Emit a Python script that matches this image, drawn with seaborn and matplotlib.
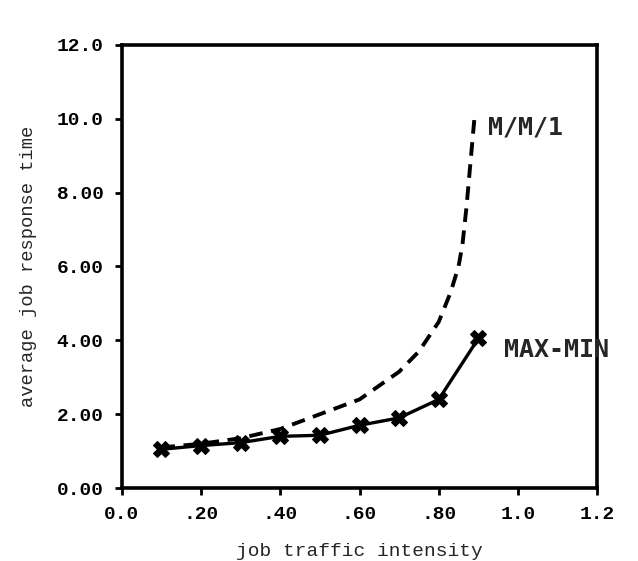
import matplotlib
matplotlib.use("Agg")
import matplotlib.pyplot as plt
import seaborn as sns
import pandas as pd

# Data
maxmin_x = [0.1, 0.2, 0.3, 0.4, 0.5, 0.6, 0.7, 0.8, 0.9]
maxmin_y = [1.05, 1.15, 1.23, 1.40, 1.43, 1.70, 1.90, 2.40, 4.05]
mm1_x = [0.1, 0.2, 0.3, 0.4, 0.5, 0.6, 0.7, 0.75, 0.8, 0.83, 0.85, 0.86, 0.87, 0.88, 0.89]
mm1_y = [1.10, 1.20, 1.35, 1.60, 2.00, 2.40, 3.15, 3.70, 4.50, 5.30, 6.00, 6.60, 7.60, 8.80, 10.0]

xticks = [0.0, 0.2, 0.4, 0.6, 0.8, 1.0, 1.2]
xticklabels = ["0.0", ".20", ".40", ".60", ".80", "1.0", "1.2"]
yticks = [0, 2, 4, 6, 8, 10, 12]
yticklabels = ["0.00", "2.00", "4.00", "6.00", "8.00", "10.0", "12.0"]

sns.set_theme(style="white")
plt.rcParams['font.family'] = ['Liberation Mono', 'DejaVu Sans Mono']

fig = plt.figure(figsize=(6.38, 5.61), dpi=100)
ax = fig.add_axes([0.191, 0.130, 0.745, 0.790])

df_mm = pd.DataFrame({"x": mm1_x, "y": mm1_y})
df_mx = pd.DataFrame({"x": maxmin_x, "y": maxmin_y})

sns.lineplot(data=df_mm, x="x", y="y", ax=ax, color="black", linewidth=2.8,
             linestyle=(0, (3.5, 2.2)), estimator=None, sort=False)
sns.lineplot(data=df_mx, x="x", y="y", ax=ax, color="black", linewidth=2.4,
             marker="X", markersize=11, markeredgecolor="black",
             estimator=None, sort=False)

ax.text(0.925, 9.75, "M/M/1", fontsize=18, fontweight="bold", va="center", ha="left",
        family=['DejaVu Sans Mono'])
ax.text(0.965, 3.75, "MAX-MIN", fontsize=18, fontweight="bold", va="center", ha="left",
        family=['DejaVu Sans Mono'])

ax.set_xlim(0, 1.2)
ax.set_ylim(0, 12)
ax.set_xticks(xticks)
ax.set_xticklabels(xticklabels, fontsize=14, fontweight="bold")
ax.set_yticks(yticks)
ax.set_yticklabels(yticklabels, fontsize=14, fontweight="bold")
ax.set_xlabel("job traffic intensity", fontsize=14, labelpad=14)
ax.set_ylabel("average job response time", fontsize=13.5, labelpad=14)

for s in ax.spines.values():
    s.set_color("black")
    s.set_linewidth(2.6)
ax.tick_params(axis="both", direction="out", length=5, width=2, colors="black",
               bottom=True, left=True, top=False, right=False, pad=8)

fig.savefig("out.png", dpi=100)
